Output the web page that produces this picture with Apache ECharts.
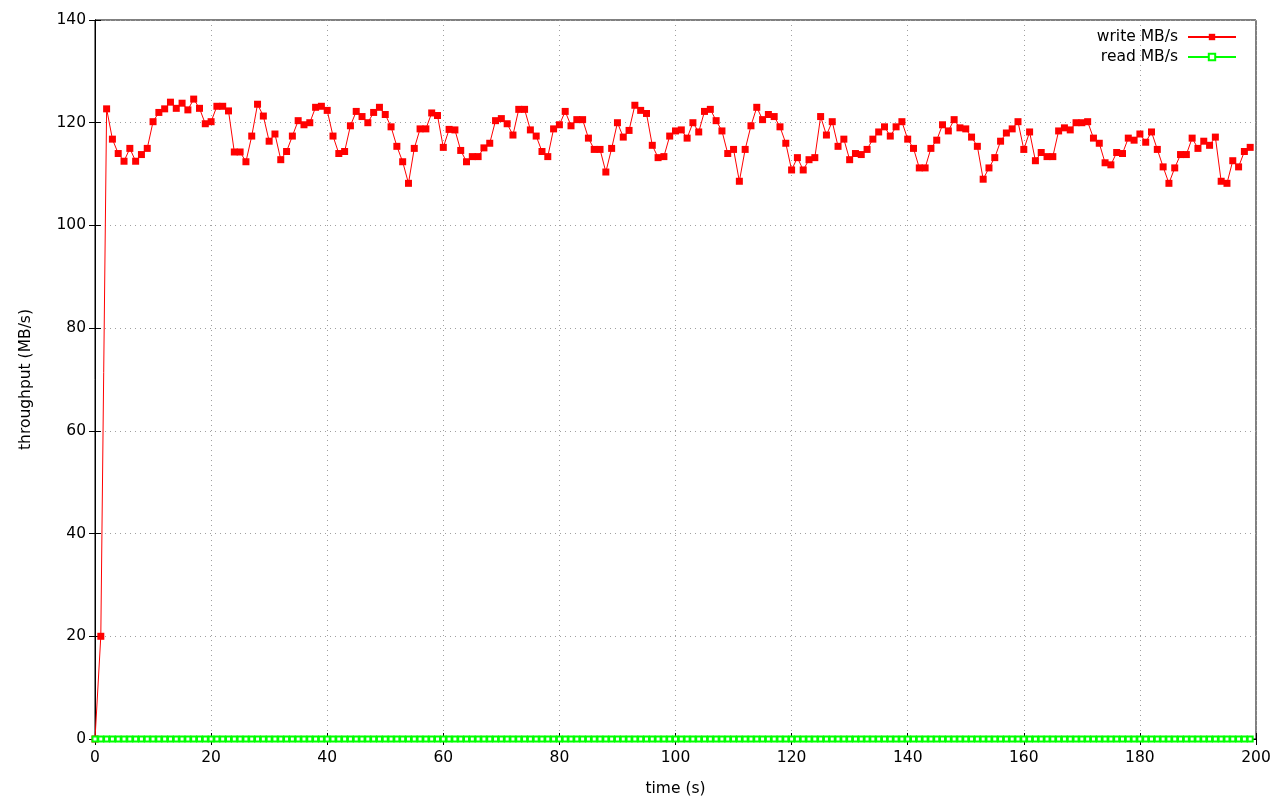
<!DOCTYPE html>
<html>
<head>
<meta charset="utf-8">
<script src="https://cdn.jsdelivr.net/npm/echarts@6/dist/echarts.min.js"></script>
<style>html,body{margin:0;padding:0;background:#fff}#c{width:1280px;height:800px}</style>
</head>
<body>
<div id="c"></div>
<script>
const seconds = Array.from({length: 200}, (_, i) => i);
const writeMBs = [
  0, 20,
  122.7, 116.8, 114, 112.5, 115, 112.5, 113.8, 115, 120.2, 122,
  122.7, 124, 122.8, 123.8, 122.5, 124.6, 122.8, 119.8, 120.2, 123.2,
  123.2, 122.3, 114.3, 114.3, 112.4, 117.4, 123.6, 121.3, 116.4, 117.8,
  112.8, 114.4, 117.4, 120.4, 119.6, 120, 123, 123.2, 122.4, 117.4,
  114, 114.4, 119.4, 122.2, 121.2, 120, 122, 123, 121.6, 119.2,
  115.4, 112.4, 108.2, 115, 118.8, 118.8, 121.9, 121.4, 115.2, 118.7,
  118.6, 114.6, 112.4, 113.4, 113.4, 115.1, 116, 120.4, 120.8, 119.8,
  117.6, 122.6, 122.6, 118.6, 117.4, 114.4, 113.4, 118.8, 119.6, 122.2,
  119.4, 120.6, 120.6, 117, 114.8, 114.8, 110.4, 115, 120, 117.2,
  118.5, 123.4, 122.4, 121.8, 115.6, 113.2, 113.4, 117.4, 118.4, 118.6,
  117, 120, 118.2, 122.2, 122.6, 120.4, 118.4, 114, 114.8, 108.6,
  114.8, 119.4, 123, 120.6, 121.6, 121.2, 119.2, 116, 110.8, 113.2,
  110.8, 112.8, 113.2, 121.2, 117.6, 120.2, 115.4, 116.8, 112.8, 114,
  113.8, 114.8, 116.8, 118.2, 119.2, 117.4, 119.2, 120.2, 116.8, 115,
  111.2, 111.2, 115, 116.6, 119.6, 118.4, 120.6, 119, 118.8, 117.2,
  115.4, 109, 111.2, 113.2, 116.4, 118, 118.8, 120.2, 114.8, 118.2,
  112.6, 114.2, 113.4, 113.4, 118.4, 119, 118.6, 120, 120, 120.2,
  117, 116, 112.2, 111.8, 114.2, 114, 117, 116.6, 117.8, 116.2,
  118.2, 114.8, 111.4, 108.2, 111.2, 113.8, 113.8, 117, 115, 116.4,
  115.6, 117.2, 108.6, 108.2, 112.6, 111.4, 114.4, 115.2
];
const readMBs = Array.from({length: 200}, () => 0);
const seriesNames = ['write MB/s', 'read MB/s'];
const xTitle = 'time (s)';
const yTitle = 'throughput (MB/s)';

const FONT = 'DejaVu Sans';
const FS = 15.5;
const chart = echarts.init(document.getElementById('c'), null, {renderer: 'canvas'});
const gridLine = {show: true, lineStyle: {color: '#a0a0a0', type: [1, 4], width: 1}};
const tick = {show: true, inside: true, length: 6, lineStyle: {color: '#000'}};
const axisLine = {show: true, lineStyle: {color: '#000', width: 1}};
const label = {color: '#000', fontFamily: FONT, fontSize: FS};
chart.setOption({
  animation: false,
  backgroundColor: '#fff',
  textStyle: {fontFamily: FONT},
  grid: {left: 95, right: 24, top: 20, bottom: 61, containLabel: false, outerBoundsMode: 'none',
         show: true, borderColor: '#000', borderWidth: 1, backgroundColor: 'transparent'},
  legend: {
    right: 38, top: 24, orient: 'vertical', align: 'right', itemGap: 4,
    itemWidth: 48, itemHeight: 8,
    textStyle: {color: '#000', fontFamily: FONT, fontSize: FS, padding: [0, 5, 0, 0]},
    data: seriesNames
  },
  xAxis: [
    {type: 'value', min: 0, max: 200, interval: 20, name: xTitle, nameLocation: 'middle', nameGap: 42,
     nameTextStyle: {color: '#000', fontFamily: FONT, fontSize: FS},
     axisLine, axisTick: tick, splitLine: gridLine, axisLabel: Object.assign({margin: 11}, label)},
    {type: 'value', position: 'top', min: 0, max: 200, interval: 20,
     axisLine, axisTick: tick, splitLine: {show: false}, axisLabel: {show: false}}
  ],
  yAxis: [
    {type: 'value', min: 0, max: 140, interval: 20, name: yTitle, nameLocation: 'middle', nameGap: 61,
     nameTextStyle: {color: '#000', fontFamily: FONT, fontSize: FS},
     axisLine, axisTick: tick, splitLine: gridLine, axisLabel: Object.assign({margin: 9}, label)},
    {type: 'value', position: 'right', min: 0, max: 140, interval: 20,
     axisLine, axisTick: tick, splitLine: {show: false}, axisLabel: {show: false}}
  ],
  series: [
    {name: seriesNames[0], type: 'line', data: seconds.map((s, i) => [s, writeMBs[i]]),
     symbol: 'rect', symbolSize: 7, showAllSymbol: true,
     lineStyle: {color: '#ff0000', width: 1}, itemStyle: {color: '#ff0000'}},
    {name: seriesNames[1], type: 'line', data: seconds.map((s, i) => [s, readMBs[i]]),
     symbol: 'emptyRect', symbolSize: 5, showAllSymbol: true,
     lineStyle: {color: '#00ff00', width: 1}, itemStyle: {color: '#00ff00', borderColor: '#00ff00', borderWidth: 1}}
  ]
});
</script>
</body>
</html>
